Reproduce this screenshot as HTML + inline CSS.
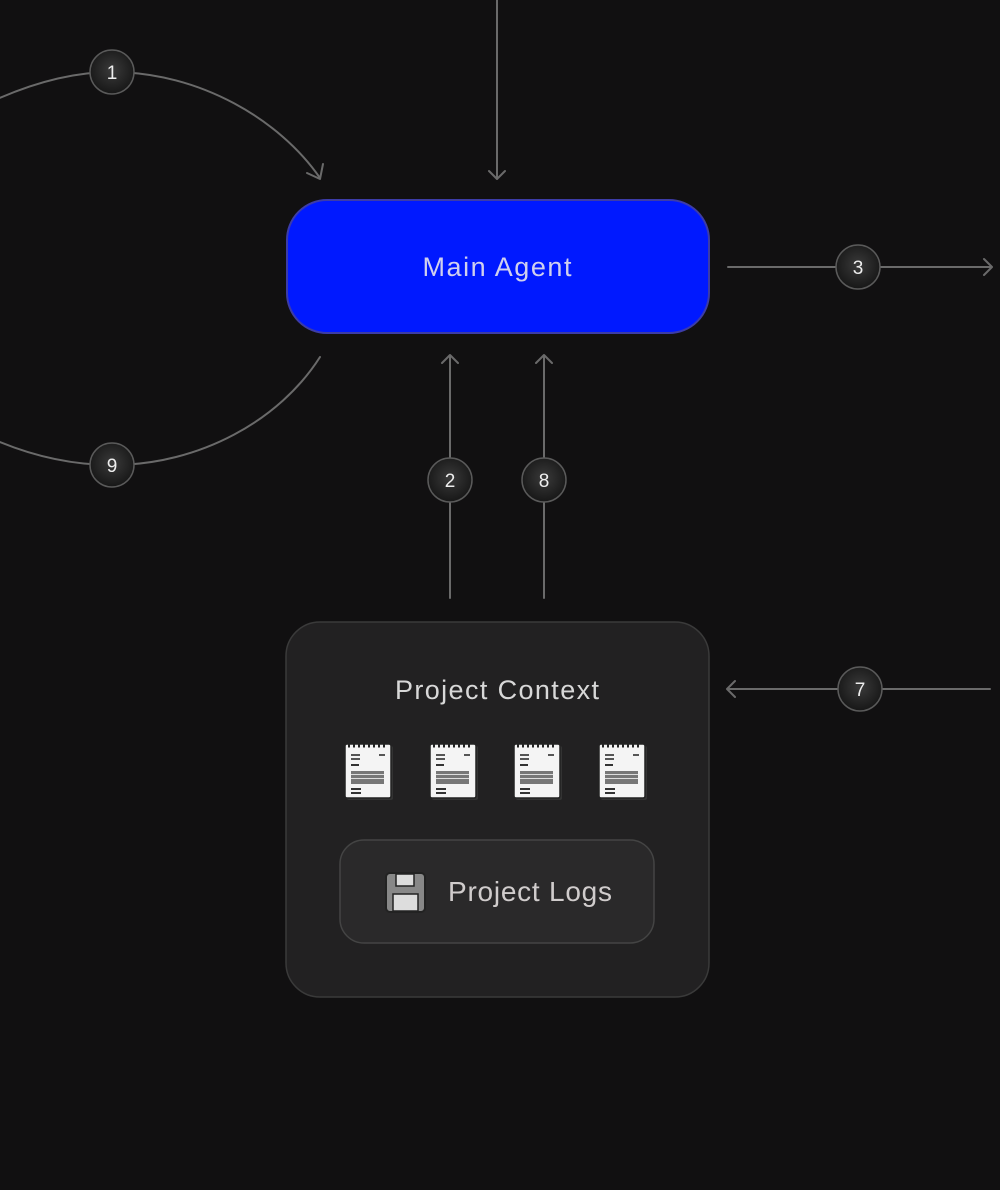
<!DOCTYPE html>
<html><head><meta charset="utf-8"><style>
body{margin:0;background:#111011;width:1000px;height:1185px;overflow:hidden;font-family:"Liberation Sans",sans-serif}
</style></head><body>
<svg width="1000" height="1185" viewBox="0 0 1000 1185" xmlns="http://www.w3.org/2000/svg">
<defs>
<radialGradient id="bg" cx="50%" cy="45%" r="60%"><stop offset="0" stop-color="#3a3a3a"/><stop offset="1" stop-color="#141414"/></radialGradient>
<g id="note">
<rect x="2" y="2" width="46" height="54" fill="#333" rx="2"/>
<rect x="0" y="0" width="46" height="54" fill="#f4f4f4" stroke="#222" stroke-width="1.5" rx="2"/>
<line x1="3" y1="2" x2="43" y2="2" stroke="#222" stroke-width="3" stroke-dasharray="2 3"/>
<rect x="6" y="10" width="9" height="2" fill="#555"/><rect x="6" y="14" width="9" height="2" fill="#555"/>
<rect x="34" y="10" width="6" height="2" fill="#555"/>
<rect x="6" y="20" width="8" height="2" fill="#333"/>
<rect x="6" y="27" width="33" height="13" fill="#777"/>
<rect x="6" y="30" width="33" height="1" fill="#ddd"/><rect x="6" y="34" width="33" height="1" fill="#ddd"/>
<rect x="6" y="44" width="10" height="2" fill="#333"/><rect x="6" y="48" width="10" height="2" fill="#333"/>
</g>
</defs>
<g stroke="#6a6a6a" stroke-width="2" fill="none" stroke-linecap="round" stroke-linejoin="round">
<path d="M -5 100 C 40 80, 80 72, 112 72 C 200 72, 280 120, 320 178"/>
<path d="M 307 173 L 320 179 L 323 164"/>
<path d="M 320 357 C 280 420, 200 465, 112 465 C 70 465, 30 455, -5 440"/>
<path d="M 497 0 L 497 179 M 489 171 L 497 179 L 505 171"/>
<path d="M 728 267 L 992 267 M 984 259 L 992 267 L 984 275"/>
<path d="M 450 598 L 450 355 M 442 363 L 450 355 L 458 363"/>
<path d="M 544 598 L 544 355 M 536 363 L 544 355 L 552 363"/>
<path d="M 990 689 L 727 689 M 735 681 L 727 689 L 735 697"/>
</g>
<rect x="287" y="200" width="422" height="133" rx="40" fill="#0019ff" stroke="#3c3ca8" stroke-width="2"/>
<text x="497" y="276" text-anchor="middle" font-size="27" fill="#d0d0ee" textLength="149">Main Agent</text>
<rect x="286" y="622" width="423" height="375" rx="34" fill="#222122" stroke="#3a3a3a" stroke-width="1.5"/>
<text x="497" y="699" text-anchor="middle" font-size="27" fill="#d8d8d8" textLength="204">Project Context</text>
<use href="#note" x="345" y="744"/><use href="#note" x="430" y="744"/><use href="#note" x="514" y="744"/><use href="#note" x="599" y="744"/>
<rect x="340" y="840" width="314" height="103" rx="24" fill="#2a292a" stroke="#444" stroke-width="1.5"/>
<rect x="386" y="873" width="39" height="39" rx="4" fill="#888" stroke="#222" stroke-width="2"/>
<rect x="396" y="874" width="18" height="12" fill="#ddd" stroke="#222" stroke-width="1.5"/>
<rect x="393" y="894" width="25" height="17" fill="#ddd" stroke="#222" stroke-width="1.5"/>
<text x="448" y="901" font-size="28" fill="#d0cccc" textLength="164">Project Logs</text>
<g font-size="19" fill="#eee" text-anchor="middle" stroke="#5a5a5a" stroke-width="1.5">
<circle cx="112" cy="72" r="22" fill="url(#bg)"/><circle cx="112" cy="465" r="22" fill="url(#bg)"/>
<circle cx="858" cy="267" r="22" fill="url(#bg)"/><circle cx="450" cy="480" r="22" fill="url(#bg)"/>
<circle cx="544" cy="480" r="22" fill="url(#bg)"/><circle cx="860" cy="689" r="22" fill="url(#bg)"/>
</g>
<g font-size="19" fill="#eee" text-anchor="middle">
<text x="112" y="79">1</text><text x="112" y="472">9</text><text x="858" y="274">3</text>
<text x="450" y="487">2</text><text x="544" y="487">8</text><text x="860" y="696">7</text>
</g>
</svg>
</body></html>
